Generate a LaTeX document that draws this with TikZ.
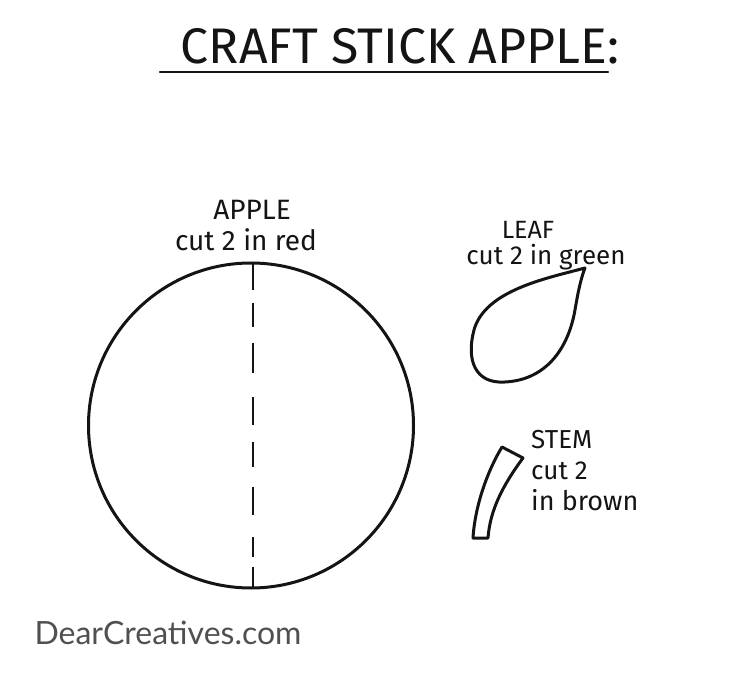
\documentclass[tikz,border=0pt]{standalone}
\usepackage{fontspec}
\setmainfont{Fira Sans}
\newfontfamily\webfont{Lato}
\definecolor{inkblack}{RGB}{20, 20, 20}
\definecolor{markgray}{RGB}{80, 80, 80}
\usetikzlibrary{positioning}
\tikzset{
  outline/.style={draw=inkblack, line width=3pt, line join=round, line cap=round},
  handlabel/.style={inner sep=0pt, text=inkblack, font=\fontsize{#1}{#1}\selectfont},
  handlabel/.default=26,
}

\begin{document}
\begin{tikzpicture}[x=1pt, y=-1pt]
\useasboundingbox (0,0) rectangle (750,684);
% title
\node[handlabel=50] (title) at (400,46) {CRAFT STICK APPLE:};
\coordinate (ulineL) at (160,72);
\coordinate (ulineR) at (608,72);
\draw[outline, line width=2.4pt] (ulineL) -- (ulineR);

% apple
\coordinate (applec) at (251,425.5);
\draw[outline] (applec) circle (162.5);
\foreach \ya/\yb in {263/290, 303/327, 343/373, 397/425, 442/467, 487/515, 537/557, 567/588}
  \draw[outline, line width=2.6pt, line cap=butt] (253,\ya) -- (253,\yb);
\node[handlabel=28] (applename) at (252,210) {APPLE};
\node[handlabel=28] (applecut) at (246,240) {cut 2 in red};

% leaf
\node[handlabel=25] (leafname) at (528,230) {LEAF};
\node[handlabel=26] (leafcut) at (546,257) {cut 2 in green};
\coordinate (leaftip) at (585,268);
\draw[outline] (leaftip) .. controls (548,278) and (485,290) .. (474,330)
  .. controls (466,360) and (475,384) .. (505,382)
  .. controls (545,380) and (568,350) .. (575,310)
  .. controls (578,292) and (581,278) .. (leaftip);

% stem
\draw[outline] (502,447) -- (523,458)
  .. controls (503,485) and (490,510) .. (488,538)
  -- (473,538)
  .. controls (475,505) and (488,470) .. cycle;
\node[handlabel=26, anchor=west] (stemname) at (531,440) {STEM};
\node[handlabel=26, anchor=west] (stemcut) at (531,471) {cut 2};
\node[handlabel=27, anchor=west] (stemcolour) at (531,500) {in brown};

% site mark
\node[inner sep=0pt, text=markgray, font=\webfont\fontsize{32}{32}\selectfont] (site) at (168,633) {DearCreatives.com};
\end{tikzpicture}
\end{document}
